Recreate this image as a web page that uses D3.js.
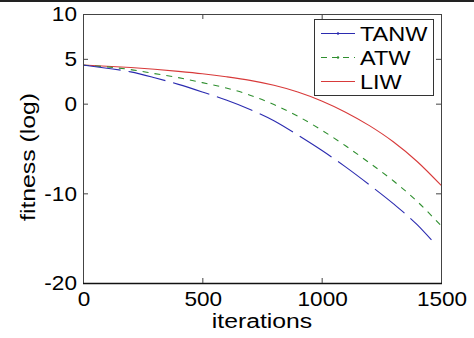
<!DOCTYPE html>
<html>
<head>
<meta charset="utf-8">
<script src="https://cdn.jsdelivr.net/npm/d3@7/dist/d3.min.js"></script>
<style>
body { margin: 0; background: #fff; }
text { font-family: "Liberation Sans", Arial, sans-serif; fill: #000; }
</style>
</head>
<body>
<script>
var iterations = [0, 100, 200, 300, 400, 500, 600, 700, 800, 900, 1000, 1100, 1200, 1300, 1400, 1500];
var tanwIterations = [0, 100, 200, 300, 400, 500, 600, 700, 800, 900, 1000, 1100, 1200, 1300, 1400, 1460];
var tanw = [4.3, 3.95, 3.55, 2.9, 2.15, 1.3, 0.4, -0.65, -1.9, -3.5, -5.2, -7.05, -9.05, -11.15, -13.5, -15.2];
var atw  = [4.3, 4.1, 3.8, 3.35, 2.9, 2.35, 1.75, 0.95, -0.1, -1.4, -2.95, -4.7, -6.6, -8.6, -10.9, -13.6];
var liw  = [4.3, 4.18, 4.03, 3.84, 3.6, 3.33, 3.0, 2.6, 2.05, 1.3, 0.3, -0.95, -2.45, -4.25, -6.45, -9.1];

var xTicks = [0, 500, 1000, 1500];
var yTicks = [-20, -10, 0, 5, 10];

var seriesNames = ["TANW", "ATW", "LIW"];
var seriesColors = ["#2b2bb0", "#2f8f2f", "#d83a3a"];
var seriesDash = ["38,8", "6,6", null];

var width = 474, height = 338;
var margin = {top: 14, right: 33, bottom: 55, left: 83};
var stretch = 1.13; // the reference text is a little wider than the font

var svg = d3.select("body").append("svg")
    .attr("width", width)
    .attr("height", height);

svg.append("rect")
    .attr("width", width).attr("height", height)
    .attr("fill", "#fff");

// dark strip along the top edge of the scan
svg.append("rect")
    .attr("x", 0).attr("y", 0)
    .attr("width", width).attr("height", 2)
    .attr("fill", "#222");

var x = d3.scaleLinear()
    .domain([0, 1500])
    .range([margin.left, width - margin.right]);
var y = d3.scaleLinear()
    .domain([-20, 10])
    .range([height - margin.bottom, margin.top]);

var line = d3.line()
    .x(function(d){ return x(d[0]); })
    .y(function(d){ return y(d[1]); })
    .curve(d3.curveMonotoneX);

var data = [
    d3.zip(tanwIterations, tanw),
    d3.zip(iterations, atw),
    d3.zip(iterations, liw)
];

// lines, red drawn first so the others sit on top
[2, 1, 0].forEach(function(i){
    svg.append("path")
        .datum(data[i])
        .attr("fill", "none")
        .attr("stroke", seriesColors[i])
        .attr("stroke-width", 1.1)
        .attr("stroke-dasharray", seriesDash[i])
        .attr("d", line);
});

// plot frame
svg.append("rect")
    .attr("x", x(0) + 0.5).attr("y", y(10) + 0.5)
    .attr("width", x(1500) - x(0)).attr("height", y(-20) - y(10))
    .attr("fill", "none")
    .attr("stroke", "#444")
    .attr("stroke-width", 1);
svg.append("line")
    .attr("x1", x(0)).attr("x2", x(1500) + 1)
    .attr("y1", y(-20) + 0.5).attr("y2", y(-20) + 0.5)
    .attr("stroke", "#111").attr("stroke-width", 1.5);

// inside ticks on all four sides
var tick = 5;
xTicks.slice(1, -1).forEach(function(t){
    svg.append("line").attr("x1", x(t) + 0.5).attr("x2", x(t) + 0.5)
        .attr("y1", y(-20)).attr("y2", y(-20) - tick).attr("stroke", "#444");
    svg.append("line").attr("x1", x(t) + 0.5).attr("x2", x(t) + 0.5)
        .attr("y1", y(10)).attr("y2", y(10) + tick).attr("stroke", "#444");
});
yTicks.slice(1, -1).forEach(function(t){
    svg.append("line").attr("x1", x(0)).attr("x2", x(0) + tick)
        .attr("y1", y(t) + 0.5).attr("y2", y(t) + 0.5).attr("stroke", "#444");
    svg.append("line").attr("x1", x(1500)).attr("x2", x(1500) - tick)
        .attr("y1", y(t) + 0.5).attr("y2", y(t) + 0.5).attr("stroke", "#444");
});

// tick labels
svg.selectAll(".ylab")
    .data(yTicks)
    .enter().append("text")
    .attr("class", "ylab")
    .attr("text-anchor", "end")
    .attr("dy", "0.36em")
    .attr("font-size", 20)
    .attr("transform", function(d){ return "translate(77," + y(d) + ") scale(" + stretch + ",1)"; })
    .text(function(d){ return d; });

svg.selectAll(".xlab")
    .data(xTicks)
    .enter().append("text")
    .attr("class", "xlab")
    .attr("text-anchor", "middle")
    .attr("font-size", 20)
    .attr("transform", function(d){ return "translate(" + (x(d) + 1) + ",306) scale(" + stretch + ",1)"; })
    .text(function(d){ return d; });

// axis titles
svg.append("text")
    .attr("text-anchor", "middle")
    .attr("font-size", 21)
    .attr("transform", "translate(" + ((x(0) + x(1500)) / 2) + ",328) scale(1.18,1)")
    .text("iterations");

svg.append("text")
    .attr("text-anchor", "middle")
    .attr("font-size", 21)
    .attr("transform", "translate(35,157) rotate(-90) scale(1.18,1)")
    .text("fitness (log)");

// legend
var legend = svg.append("g");
legend.append("rect")
    .attr("x", 314.5).attr("y", 19.5)
    .attr("width", 119).attr("height", 76)
    .attr("fill", "#fff")
    .attr("stroke", "#333");

var rows = legend.selectAll(".row")
    .data(seriesNames)
    .enter().append("g")
    .attr("class", "row")
    .attr("transform", function(d, i){ return "translate(0," + (33 + i * 24) + ")"; });

rows.append("line")
    .attr("x1", 321).attr("x2", 355)
    .attr("y1", 0.5).attr("y2", 0.5)
    .attr("stroke", function(d, i){ return seriesColors[i]; })
    .attr("stroke-width", 1.1)
    .attr("stroke-dasharray", function(d, i){ return i === 1 ? "6,5" : null; });

rows.filter(function(d, i){ return i < 2; })
    .append("circle")
    .attr("cx", 338).attr("cy", 0.5).attr("r", 1.2)
    .attr("fill", function(d, i){ return seriesColors[i]; });

rows.append("text")
    .attr("font-size", 21)
    .attr("dy", "0.36em")
    .attr("transform", "translate(360,0) scale(1.12,1)")
    .text(function(d){ return d; });
</script>
</body>
</html>
